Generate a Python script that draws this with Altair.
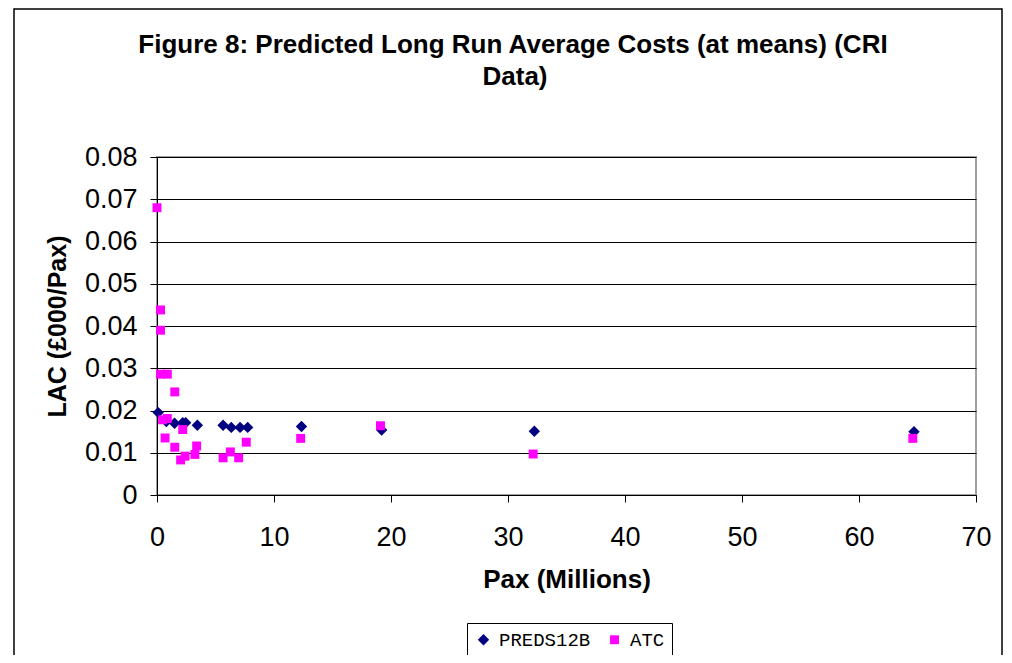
import altair as alt
import pandas as pd

preds_x = [0.1, 0.8, 1.5, 2.2, 2.45, 3.45, 5.65, 6.35, 7.1, 7.75, 12.35, 19.2, 32.25, 64.7]
preds_y = [0.0195, 0.0174, 0.0170, 0.0171, 0.0171, 0.0165, 0.0165, 0.0160, 0.0160, 0.0160, 0.0162, 0.0154, 0.0151, 0.0150]

atc_x = [0.0, 0.3, 0.3, 0.3, 0.88, 1.52, 0.48, 0.88, 0.69, 1.52, 2.2, 2.02, 2.4, 3.24, 3.39,
         5.65, 6.27, 6.98, 7.63, 12.28, 19.1, 32.15, 64.6]
atc_y = [0.068, 0.0438, 0.039, 0.0286, 0.0286, 0.0244, 0.0178, 0.0181, 0.0135, 0.0113, 0.0155,
         0.0083, 0.0092, 0.0096, 0.0116, 0.0088, 0.0102, 0.0088, 0.0125, 0.0134, 0.0164, 0.0097, 0.0134]

series_names = ["PREDS12B", "ATC"]
series_colors = ["#000080", "#FF00FF"]
series_shapes = ["diamond", "square"]

title_lines = ["Figure 8: Predicted Long Run Average Costs (at means) (CRI", "Data)"]

df = pd.concat([
    pd.DataFrame({"x": preds_x, "y": preds_y, "series": "PREDS12B"}),
    pd.DataFrame({"x": atc_x, "y": atc_y, "series": "ATC"}),
])

W, H = 819, 338

one = pd.DataFrame({"a": [0]})

frame = alt.Chart(one).mark_rect(
    fillOpacity=0, stroke="black", strokeWidth=1.5
).encode(x=alt.value(-143), x2=alt.value(845), y=alt.value(-148), y2=alt.value(520))

title1 = alt.Chart(one).mark_text(
    text=title_lines[0], font="Liberation Sans", fontSize=26, fontWeight="bold",
    color="black", align="center", baseline="alphabetic"
).encode(x=alt.value(356), y=alt.value(-104))

title2 = alt.Chart(one).mark_text(
    text=title_lines[1], font="Liberation Sans", fontSize=26, fontWeight="bold",
    color="black", align="center", baseline="alphabetic"
).encode(x=alt.value(358), y=alt.value(-72))

leg = alt.Legend(orient="none", legendX=310, legendY=466, direction="horizontal", title=None,
                 strokeColor="black", padding=7, labelFont="Liberation Mono", labelFontSize=19,
                 labelColor="black", symbolSize=70, columnPadding=14, symbolOpacity=1,
                 labelOffset=6)

points = alt.Chart(df).mark_point(filled=True, opacity=1).encode(
    x=alt.X("x:Q", scale=alt.Scale(domain=[0, 70], nice=False),
            axis=alt.Axis(values=list(range(0, 71, 10)), title="Pax (Millions)", grid=False,
                          tickSize=7, tickColor="black", domainColor="black", labelFlush=False,
                          labelFontSize=27, labelPadding=22, labelFont="Liberation Sans",
                          labelColor="black",
                          titleFontSize=26, titleFont="Liberation Sans", titleFontWeight="bold",
                          titlePadding=16, titleColor="black")),
    y=alt.Y("y:Q", scale=alt.Scale(domain=[0, 0.08], nice=False),
            axis=alt.Axis(values=[0, 0.01, 0.02, 0.03, 0.04, 0.05, 0.06, 0.07, 0.08],
                          labelExpr="datum.value == 0 ? '0' : format(datum.value, '.2f')",
                          title="LAC (£000/Pax)", grid=True, gridColor="black", gridOpacity=1,
                          gridWidth=1.2, tickSize=7, tickColor="black", domainColor="black",
                          labelFlush=False,
                          labelFontSize=27, labelPadding=13, labelFont="Liberation Sans",
                          labelColor="black",
                          titleFontSize=25, titleFont="Liberation Sans", titleFontWeight="bold",
                          titlePadding=14, titleColor="black")),
    shape=alt.Shape("series:N", scale=alt.Scale(domain=series_names, range=series_shapes), legend=leg),
    color=alt.Color("series:N", scale=alt.Scale(domain=series_names, range=series_colors), legend=leg),
    size=alt.Size("series:N", scale=alt.Scale(domain=series_names, range=[130, 80]), legend=None),
)

chart = alt.layer(frame, title1, title2, points).properties(
    width=W, height=H,
    padding={"left": 149, "top": 149, "right": 28, "bottom": 160},
    autosize=alt.AutoSizeParams(type="none"),
).configure_view(stroke="#a0a0a0", strokeWidth=2)

chart.save("out.html", embed_options={"renderer": "svg", "actions": False})
